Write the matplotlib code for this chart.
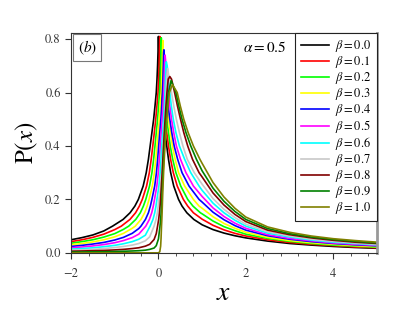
import matplotlib
matplotlib.use("Agg")
import matplotlib.pyplot as plt
from matplotlib.ticker import MultipleLocator, FormatStrFormatter

plt.rcParams['font.family'] = ['STIXGeneral', 'DejaVu Serif']
plt.rcParams['mathtext.fontset'] = 'stix'

BETAS = [0.0, 0.1, 0.2, 0.3, 0.4, 0.5, 0.6, 0.7, 0.8, 0.9, 1.0]
COLORS = ['#000000', '#ff0000', '#00ff00', '#ffff00', '#0000ff', '#ff00ff',
          '#00ffff', '#c8c8c8', '#800000', '#008000', '#808000']

# peak of each curve (x, P)
PEAK_X = [0.0, 0.03, 0.065, 0.10, 0.125, 0.152, 0.18, 0.21, 0.26, 0.29, 0.32]
PEAK_Y = [0.81, 0.81, 0.805, 0.795, 0.76, 0.74, 0.715, 0.69, 0.66, 0.645, 0.63]

# heights at which the steep parts were read: x where each curve crosses them
LEVELS = [0.1, 0.125, 0.15, 0.175, 0.2, 0.25, 0.3, 0.35, 0.4, 0.45, 0.5, 0.55, 0.6, 0.65, 0.7, 0.75]
N = None
LEFT = [
    [-1.05, -0.81, -0.65, -0.54, -0.46, -0.35, -0.28, -0.23, -0.19, -0.15, -0.11, -0.079, -0.05, -0.033, -0.02, -0.01],
    [-0.85, -0.653, -0.524, -0.437, -0.37, -0.272, -0.209, -0.166, -0.13, -0.095, -0.062, -0.035, -0.01, 0.004, 0.014, 0.022],
    [-0.68, -0.52, -0.415, -0.345, -0.29, -0.204, -0.149, -0.111, -0.08, -0.05, -0.02, 0.003, 0.025, 0.039, 0.049, 0.057],
    [-0.53, -0.401, -0.316, -0.259, -0.215, -0.141, -0.094, -0.062, -0.035, -0.007, 0.019, 0.04, 0.06, 0.074, 0.084, 0.092],
    [-0.4, -0.298, -0.23, -0.185, -0.15, -0.086, -0.046, -0.018, 0.005, 0.03, 0.055, 0.074, 0.092, 0.103, 0.112, 0.118],
    [-0.29, -0.208, -0.154, -0.118, -0.09, -0.037, -0.003, 0.02, 0.04, 0.063, 0.086, 0.103, 0.12, 0.131, 0.139, N],
    [-0.19, -0.126, -0.085, -0.057, -0.035, 0.01, 0.039, 0.059, 0.075, 0.097, 0.118, 0.134, 0.15, 0.16, 0.168, N],
    [-0.1, -0.055, -0.025, -0.005, 0.01, 0.049, 0.074, 0.091, 0.105, 0.125, 0.145, 0.16, 0.175, 0.187, N, N],
    [-0.02, 0.005, 0.0225, 0.0365, 0.0475, 0.0675, 0.085, 0.101, 0.117, 0.134, 0.152, 0.172, 0.1945, 0.2245, N, N],
    [0.035, 0.05, 0.061, 0.07, 0.0775, 0.0915, 0.1055, 0.1205, 0.1365, 0.1545, 0.1755, 0.2005, 0.2305, N, N, N],
    [0.07, 0.0775, 0.0835, 0.0885, 0.0935, 0.1045, 0.1175, 0.1325, 0.1495, 0.1695, 0.1925, 0.2195, 0.2505, N, N, N],
]
RIGHT = [
    [N, 0.81, 0.65, 0.54, 0.46, 0.35, 0.28, 0.23, 0.19, 0.15, 0.11, 0.079, 0.05, 0.033, 0.02, 0.01],
    [N, N, 0.80, 0.67, 0.57, 0.43, 0.34, 0.278, 0.23, 0.19, 0.15, 0.116, 0.085, 0.066, 0.052, 0.041],
    [N, N, 0.96, 0.79, 0.67, 0.51, 0.40, 0.327, 0.27, 0.23, 0.19, 0.154, 0.12, 0.101, 0.087, 0.076],
    [N, N, N, 0.93, 0.80, 0.60, 0.46, 0.382, 0.32, 0.275, 0.23, 0.194, 0.16, 0.14, 0.124, 0.112],
    [N, N, N, N, 0.93, 0.70, 0.54, 0.44, 0.36, 0.305, 0.26, 0.222, 0.19, 0.167, 0.145, 0.13],
    [N, N, N, N, N, 0.80, 0.63, 0.505, 0.41, 0.35, 0.30, 0.262, 0.23, 0.20, 0.175, N],
    [N, N, N, N, N, 0.93, 0.74, 0.60, 0.48, 0.40, 0.34, 0.295, 0.26, 0.23, 0.20, N],
    [N, N, N, N, N, N, 0.82, 0.66, 0.56, 0.48, 0.41, 0.35, 0.30, 0.25, N, N],
    [N, N, N, N, N, N, 0.93, 0.78, 0.67, 0.58, 0.505, 0.435, 0.37, 0.30, N, N],
    [N, N, N, N, N, N, N, 0.87, 0.74, 0.63, 0.54, 0.465, 0.40, N, N, N],
    [N, N, N, N, N, N, N, 0.95, 0.80, 0.68, 0.58, 0.50, 0.43, N, N, N],
]

# left tails, P at fixed x
TAIL_LX = [-2, -1.75, -1.5, -1.25, -1.0, -0.8, -0.6, -0.45, -0.3, -0.2, -0.1, -0.05, 0.0, 0.03, 0.05, 0.06]
TAIL_L = [
    [.049, .057, .067, .082, N, N, N, N, N, N, N, N, N, N, N, N],
    [.042, .049, .058, .070, .087, N, N, N, N, N, N, N, N, N, N, N],
    [.036, .042, .049, .059, .072, .088, N, N, N, N, N, N, N, N, N, N],
    [.030, .035, .041, .049, .060, .073, .092, N, N, N, N, N, N, N, N, N],
    [.024, .028, .033, .039, .048, .058, .073, .091, N, N, N, N, N, N, N, N],
    [.019, .022, .026, .031, .038, .046, .057, .070, N, N, N, N, N, N, N, N],
    [.014, .016, .019, .023, .028, .034, .042, .051, .066, N, N, N, N, N, N, N],
    [.010, .011, .013, .016, .020, .024, .029, .035, .045, .060, N, N, N, N, N, N],
    [.006, .007, .008, .009, .011, .013, .016, .019, .025, .032, .050, .072, N, N, N, N],
    [.003, .003, .004, .004, .005, .006, .007, .008, .010, .013, .018, .027, .052, N, N, N],
    [0, 0, 0, 0, 0, 0, 0, 0, 0, 0, 0, 0, 0, .004, .025, .055],
]

# right tails, P at fixed x
TAIL_RX = [1.0, 1.25, 1.5, 1.75, 2.0, 2.5, 3.0, 3.5, 4.0, 4.5, 5.0]
TAIL_R = [
    [.105, .087, .074, .064, .056, .044, .035, .029, .024, .020, .017],
    [.126, .103, .086, .073, .063, .049, .039, .032, .027, .022, .019],
    [.146, .119, .098, .083, .070, .054, .043, .035, .029, .025, .021],
    [.167, .135, .110, .092, .077, .058, .046, .038, .032, .027, .023],
    [.190, .152, .124, .102, .085, .064, .051, .042, .035, .030, .026],
    [.211, .168, .136, .111, .092, .068, .054, .045, .037, .032, .028],
    [.234, .186, .150, .122, .100, .074, .059, .048, .040, .035, .030],
    [.257, .203, .163, .132, .107, .079, .063, .051, .043, .037, .032],
    [.284, .224, .179, .144, .117, .085, .068, .056, .047, .040, .035],
    [.307, .242, .193, .155, .125, .091, .072, .059, .050, .043, .037],
    [.335, .263, .209, .167, .134, .097, .077, .063, .053, .046, .040],
]

fig = plt.figure(figsize=(3.95, 3.11), dpi=100)
ax = fig.add_axes([0.18, 0.187, 0.774, 0.707])

for k in range(len(BETAS)):
    xs, ys = [], []
    for x, y in zip(TAIL_LX, TAIL_L[k]):
        if y is not None:
            xs.append(x); ys.append(y)
    for x, y in zip(LEFT[k], LEVELS):
        if x is not None:
            xs.append(x); ys.append(y)
    xs.append(PEAK_X[k]); ys.append(PEAK_Y[k])
    for x, y in zip(RIGHT[k][::-1], LEVELS[::-1]):
        if x is not None:
            xs.append(x); ys.append(y)
    xs += TAIL_RX
    ys += TAIL_R[k]
    ax.plot(xs, ys, color=COLORS[k], lw=1.2, solid_joinstyle='round',
            label=r"$\beta = %.1f$ " % BETAS[k])

ax.set_xlim(-2, 5)
ax.set_ylim(0, 0.823)
ax.xaxis.set_major_locator(MultipleLocator(2))
ax.xaxis.set_minor_locator(MultipleLocator(0.4))
ax.yaxis.set_major_locator(MultipleLocator(0.2))
ax.yaxis.set_major_formatter(FormatStrFormatter('%.1f'))
ax.tick_params(which='both', direction='out', labelsize=9, colors='#333333')
ax.tick_params(which='major', length=4)
ax.tick_params(which='minor', length=2)
ax.tick_params(axis='x', which='major', pad=7)
for s in ['left', 'top', 'bottom']:
    ax.spines[s].set_color('#333333')
ax.spines['right'].set_color('#999999')
ax.spines['right'].set_linewidth(2)

ax.set_xlabel(r"$x$", fontsize=20, labelpad=1)
ax.set_ylabel(r"P($x$)", fontsize=18, labelpad=4)

leg = ax.legend(loc='upper right', bbox_to_anchor=(1.0, 1.0), borderaxespad=0,
                fontsize=9, handlelength=2.25, handletextpad=0.5,
                labelspacing=0.0, fancybox=False, framealpha=1,
                edgecolor='#222222', borderpad=0.42)
leg.get_frame().set_linewidth(0.8)

ax.text(0.705, 0.935, r"$\alpha = 0.5$", transform=ax.transAxes, ha='right',
        va='center', fontsize=11)
ax.text(0.022, 0.975, r"($b$)", transform=ax.transAxes, ha='left', va='top',
        fontsize=11, bbox=dict(boxstyle='square,pad=0.3', fc='white',
                               ec='#777777', lw=0.8))

fig.savefig("out.png", dpi=100)
